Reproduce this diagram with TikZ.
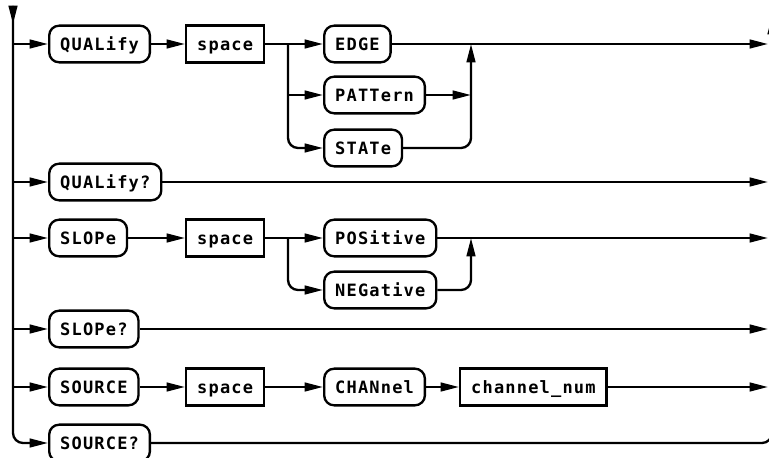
\documentclass[tikz,border=0pt]{standalone}
\usepackage{fontspec}
\usepackage{tikz}
\usetikzlibrary{arrows.meta}
\newfontfamily\plotfont[LetterSpace=7]{DejaVu Sans Mono}

\begin{document}
\begin{tikzpicture}[x=0.03cm, y=-0.03cm, line width=2pt,
  flow/.style={-{Triangle[length=0.55cm,width=0.26cm]}},
  turn/.style={rounded corners=0.3cm},
  kw/.style={draw, anchor=west, rounded corners=0.3cm, minimum height=1.1cm, inner xsep=0.33cm,
    text height=0.37cm, text depth=0cm, font=\plotfont\bfseries\fontsize{14.5}{16}\selectfont},
  arg/.style={kw, sharp corners}]

\path[use as bounding box, clip] (0,0) rectangle (769,458);

\coordinate (lbus) at (13,0);
\coordinate (ltop) at (13,6);
\coordinate (lhead) at (13,24);
\coordinate (fork) at (288,0);
\coordinate (join) at (471,0);
\coordinate (rend) at (768,0);
\coordinate (rtop) at (772,16);

% QUALify
\node[kw] (qual) at (48,44) {QUALify};
\node[arg] (sp1) at (185,44) {space};
\node[kw] (edge) at (323,44) {EDGE};
\node[kw] (patt) at (323,95) {PATTern};
\node[kw] (state) at (323,148) {STATe};
\node[kw] (qualq) at (48,182) {QUALify?};

% SLOPe
\node[kw] (slope) at (48,238) {SLOPe};
\node[arg] (sp2) at (185,238) {space};
\node[kw] (pos) at (323,238) {POSitive};
\node[kw] (neg) at (323,290) {NEGative};
\node[kw] (slopeq) at (48,329) {SLOPe?};

% SOURCE
\node[kw] (source) at (48,387) {SOURCE};
\node[arg] (sp3) at (185,387) {space};
\node[kw] (chan) at (323,387) {CHANnel};
\node[arg] (chnum) at (459,387) {channel\_num};
\node[kw] (sourceq) at (48,443) {SOURCE?};

% left bus
\draw[flow, turn] (ltop) |- (sourceq);
\draw[flow] (ltop) -- (lhead);

\draw[flow] (qual -| lbus) -- (qual);
\draw[flow] (qual) -- (sp1);
\draw[flow] (sp1) -- (edge);
\draw[flow] (patt -| fork) -- (patt);
\draw[flow, turn] (sp1 -| fork) |- (state);
\draw[flow] (patt) -- (patt -| join);
\draw[flow, turn] (state) -| (edge -| join);
\draw[flow] (edge) -- (edge -| rend);

\draw[flow] (qualq -| lbus) -- (qualq);
\draw[flow] (qualq) -- (qualq -| rend);

\draw[flow] (slope -| lbus) -- (slope);
\draw[flow] (slope) -- (sp2);
\draw[flow] (sp2) -- (pos);
\draw[flow, turn] (sp2 -| fork) |- (neg);
\draw[flow, turn] (neg) -| (pos -| join);
\draw[flow] (pos) -- (pos -| rend);

\draw[flow] (slopeq -| lbus) -- (slopeq);
\draw[flow] (slopeq) -- (slopeq -| rend);

\draw[flow] (source -| lbus) -- (source);
\draw[flow] (source) -- (sp3);
\draw[flow] (sp3) -- (chan);
\draw[flow] (chan) -- (chnum);
\draw[flow] (chnum) -- (chnum -| rend);

% right bus
\draw[flow, turn] (sourceq) -| (rtop);
\end{tikzpicture}
\end{document}
